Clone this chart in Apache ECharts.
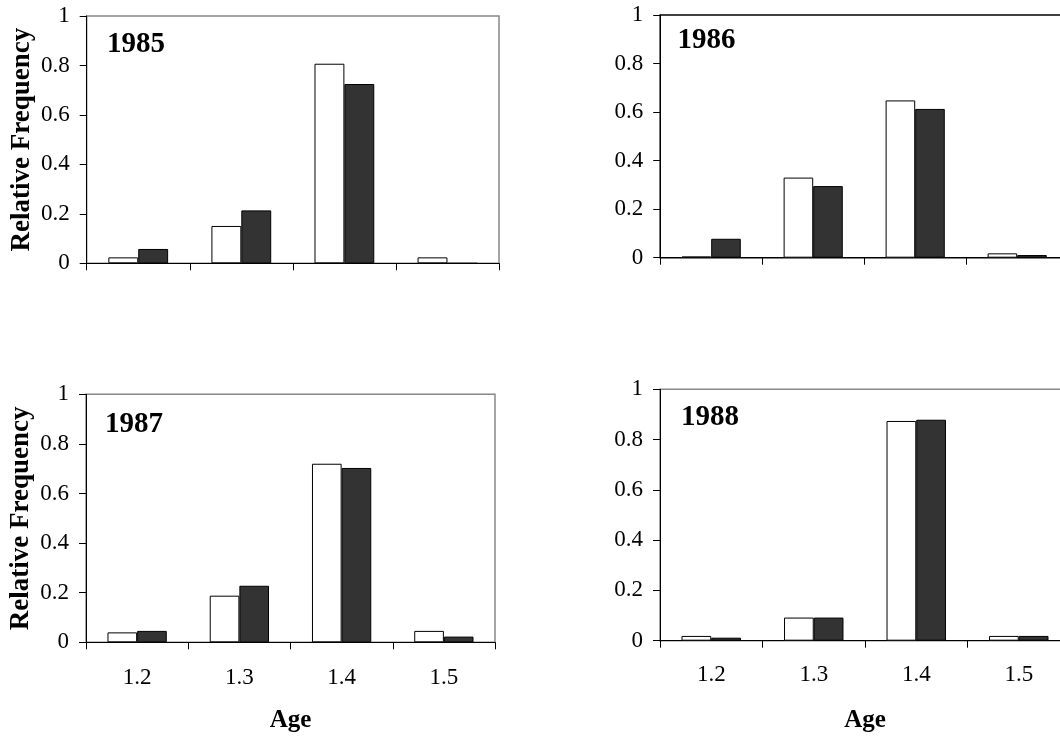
<!DOCTYPE html>
<html>
<head>
<meta charset="utf-8">
<script src="https://cdn.jsdelivr.net/npm/echarts@6/dist/echarts.min.js"></script>
<style>
html,body{margin:0;padding:0;background:#fff;}
#c{width:1060px;height:736px;}
</style>
</head>
<body>
<div id="c"></div>
<script>
// ---- data ----
const ages = ['1.2', '1.3', '1.4', '1.5'];
const years = ['1985', '1986', '1987', '1988'];
const yTicks = [0, 0.2, 0.4, 0.6, 0.8, 1];
const white1985 = [0.024, 0.151, 0.807, 0.024];
const dark1985  = [0.058, 0.214, 0.725, 0];
const white1986 = [0.005, 0.330, 0.648, 0.018];
const dark1986  = [0.078, 0.295, 0.613, 0.011];
const white1987 = [0.040, 0.188, 0.720, 0.046];
const dark1987  = [0.046, 0.228, 0.703, 0.023];
const white1988 = [0.019, 0.092, 0.874, 0.019];
const dark1988  = [0.012, 0.092, 0.879, 0.019];

const whites = [white1985, white1986, white1987, white1988];
const darks = [dark1985, dark1986, dark1987, dark1988];

// ---- layout ----
const FONT = "'Liberation Serif', 'Times New Roman', serif";
const grids = [
  {left: 86.7, top: 16, width: 412.3, height: 247.3, border: '#888', labelMargin: 24, nameGap: 66},
  {left: 660.2, top: 15, width: 408, height: 242.7, border: '#000', labelMargin: 24, nameGap: 66},
  {left: 86, top: 394.3, width: 409, height: 248, border: '#888', labelMargin: 24, nameGap: 66},
  {left: 660, top: 389.3, width: 410, height: 251.4, border: '#888', labelMargin: 23, nameGap: 67}
];
const titlePos = [
  {left: 107, top: 30},
  {left: 677.5, top: 26},
  {left: 105, top: 410},
  {left: 681, top: 403}
];

const chart = echarts.init(document.getElementById('c'), null, {renderer: 'canvas'});

const option = {
  animation: false,
  backgroundColor: '#fff',
  title: years.map((y, i) => ({
    text: y,
    left: titlePos[i].left,
    top: titlePos[i].top,
    padding: 0,
    textStyle: {fontFamily: FONT, fontSize: 29, fontWeight: 'bold', color: '#000'}
  })),
  grid: grids.map(g => ({
    left: g.left, top: g.top, width: g.width, height: g.height,
    containLabel: false,
    outerBoundsMode: 'none',
    show: true, borderColor: g.border, borderWidth: 1.5, backgroundColor: 'transparent'
  })),
  xAxis: grids.map((g, i) => ({
    type: 'category',
    gridIndex: i,
    data: ages,
    boundaryGap: true,
    name: i >= 2 ? 'Age' : '',
    nameLocation: 'middle',
    nameGap: g.nameGap,
    nameTextStyle: {fontFamily: FONT, fontSize: 25, fontWeight: 'bold', color: '#000'},
    axisLine: {show: true, onZero: false, lineStyle: {color: '#000', width: 1}},
    axisTick: {show: true, alignWithLabel: false, interval: 0, length: 7, inside: false, lineStyle: {color: '#000'}},
    axisLabel: {show: i >= 2, interval: 0, margin: g.labelMargin, fontFamily: FONT, fontSize: 23, color: '#000'},
    splitLine: {show: false}
  })),
  yAxis: grids.map((g, i) => ({
    type: 'value',
    gridIndex: i,
    min: yTicks[0],
    max: yTicks[yTicks.length - 1],
    interval: 0.2,
    name: (i === 0 || i === 2) ? 'Relative Frequency' : '',
    nameLocation: 'middle',
    nameGap: 51,
    nameTextStyle: {fontFamily: FONT, fontSize: 27, fontWeight: 'bold', color: '#000'},
    axisLine: {show: true, lineStyle: {color: '#000', width: 1}},
    axisTick: {show: true, length: 7, inside: false, lineStyle: {color: '#000'}},
    axisLabel: {margin: 17, fontFamily: FONT, fontSize: 23, color: '#000',
      formatter: v => String(Math.round(v * 10) / 10)},
    splitLine: {show: false}
  })),
  series: []
};

for (let i = 0; i < 4; i++) {
  option.series.push({
    type: 'bar', xAxisIndex: i, yAxisIndex: i, data: whites[i],
    barGap: '0%', barCategoryGap: '42%',
    itemStyle: {color: '#ffffff', borderColor: '#000', borderWidth: 1}
  });
  option.series.push({
    type: 'bar', xAxisIndex: i, yAxisIndex: i, data: darks[i],
    barGap: '0%', barCategoryGap: '42%',
    itemStyle: {color: '#333333', borderColor: '#000', borderWidth: 1}
  });
}

chart.setOption(option);
</script>
</body>
</html>
